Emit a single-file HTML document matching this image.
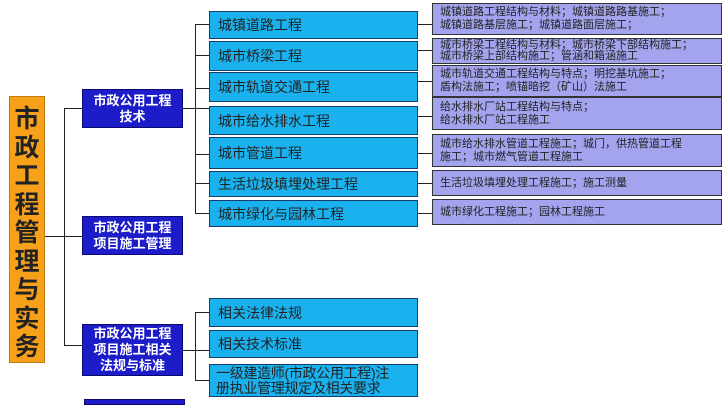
<!DOCTYPE html><html><head><meta charset="utf-8"><style>
body{margin:0;width:724px;height:402px;background:#fff;position:relative;overflow:hidden;font-family:"Liberation Sans","Noto Sans CJK SC",sans-serif}
.b{position:absolute;box-sizing:border-box}
.o{background:#f7a11a;border:1px solid #c07a10;left:9px;top:96px;width:36px;height:267px;font-size:25px;font-weight:bold;color:#222;text-align:center;line-height:28.5px;padding-top:8px}
.d{background:#1c1cc8;border:1px solid #0a0a70;color:#fff;font-weight:bold;font-size:13px;line-height:16px;text-align:center;left:82px;width:101px;display:flex;align-items:center;justify-content:center}
.c{background:#1ab2ee;border:1px solid #1a3a6a;left:209px;width:209px;font-size:14px;color:#222;padding-left:8px;display:flex;align-items:center;line-height:16px}
.p{background:#a3a3ee;border:1px solid #333;left:432px;width:290px;font-size:11px;color:#222;padding-left:7px;line-height:13px;display:flex;align-items:center}
.l{position:absolute;background:#222}
</style></head><body>
<div class="l" style="left:45px;top:236px;width:37px;height:1px"></div>
<div class="l" style="left:64px;top:108px;width:1px;height:238px"></div>
<div class="l" style="left:64px;top:108px;width:18px;height:1px"></div>
<div class="l" style="left:64px;top:345px;width:18px;height:1px"></div>
<div class="l" style="left:183px;top:108px;width:26px;height:1px"></div>
<div class="l" style="left:195px;top:24px;width:1px;height:190px"></div>
<div class="l" style="left:183px;top:350px;width:26px;height:1px"></div>
<div class="l" style="left:195px;top:312px;width:1px;height:68px"></div>
<div class="l" style="left:195px;top:24px;width:14px;height:1px"></div>
<div class="l" style="left:195px;top:55px;width:14px;height:1px"></div>
<div class="l" style="left:195px;top:88px;width:14px;height:1px"></div>
<div class="l" style="left:195px;top:154px;width:14px;height:1px"></div>
<div class="l" style="left:195px;top:183px;width:14px;height:1px"></div>
<div class="l" style="left:195px;top:213px;width:14px;height:1px"></div>
<div class="l" style="left:195px;top:312px;width:14px;height:1px"></div>
<div class="l" style="left:195px;top:380px;width:14px;height:1px"></div>
<div class="l" style="left:418px;top:24px;width:14px;height:1px"></div>
<div class="l" style="left:418px;top:50px;width:14px;height:1px"></div>
<div class="l" style="left:418px;top:81px;width:14px;height:1px"></div>
<div class="l" style="left:418px;top:116px;width:14px;height:1px"></div>
<div class="l" style="left:418px;top:153px;width:14px;height:1px"></div>
<div class="l" style="left:418px;top:183px;width:14px;height:1px"></div>
<div class="l" style="left:418px;top:213px;width:14px;height:1px"></div>
<div class="b o">市<br>政<br>工<br>程<br>管<br>理<br>与<br>实<br>务</div>
<div class="b d" style="top:89px;height:39px">市政公用工程<br>技术</div>
<div class="b d" style="top:216px;height:39px">市政公用工程<br>项目施工管理</div>
<div class="b d" style="top:324px;height:52px">市政公用工程<br>项目施工相关<br>法规与标准</div>
<div class="b d" style="top:399px;height:6px;left:84px"></div>
<div class="b c" style="top:11px;height:28px">城镇道路工程</div>
<div class="b c" style="top:41px;height:30px">城市桥梁工程</div>
<div class="b c" style="top:72px;height:30px">城市轨道交通工程</div>
<div class="b c" style="top:106px;height:29px">城市给水排水工程</div>
<div class="b c" style="top:137px;height:32px">城市管道工程</div>
<div class="b c" style="top:171px;height:26px">生活垃圾填埋处理工程</div>
<div class="b c" style="top:200px;height:27px">城市绿化与园林工程</div>
<div class="b c" style="top:298px;height:29px">相关法律法规</div>
<div class="b c" style="top:330px;height:28px">相关技术标准</div>
<div class="b c" style="top:364px;height:33px;font-size:14px;line-height:15px;padding-left:6px;letter-spacing:-0.3px">一级建造师(市政公用工程)注<br>册执业管理规定及相关要求</div>
<div class="b p" style="top:3px;height:32px">城镇道路工程结构与材料；城镇道路路基施工；<br>城镇道路基层施工；城镇道路面层施工；</div>
<div class="b p" style="top:38px;height:26px;line-height:11px">城市桥梁工程结构与材料；城市桥梁下部结构施工；<br>城市桥梁上部结构施工；管涵和箱涵施工</div>
<div class="b p" style="top:65px;height:32px">城市轨道交通工程结构与特点；明挖基坑施工；<br>盾构法施工；喷锚暗挖（矿山）法施工</div>
<div class="b p" style="top:97px;height:33px">给水排水厂站工程结构与特点；<br>给水排水厂站工程施工</div>
<div class="b p" style="top:134px;height:33px">城市给水排水管道工程施工；城门，供热管道工程<br>施工；城市燃气管道工程施工</div>
<div class="b p" style="top:170px;height:26px">生活垃圾填埋处理工程施工；施工测量</div>
<div class="b p" style="top:199px;height:26px">城市绿化工程施工；园林工程施工</div>
</body></html>
